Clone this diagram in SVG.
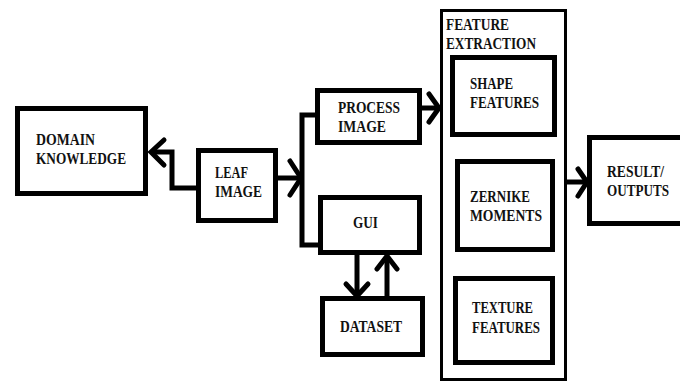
<svg xmlns="http://www.w3.org/2000/svg" width="680" height="382" viewBox="0 0 680 382">
  <style>
    .box { fill: #ffffff; stroke: #000000; stroke-width: 5; }
    .frame { fill: #ffffff; stroke: #000000; stroke-width: 3; }
    .lbl { font-family: "Liberation Serif", "Times New Roman", serif; font-weight: bold; font-size: 17px; fill: #111111; }
    .wire { fill: none; stroke: #000000; stroke-width: 5; stroke-linejoin: miter; }
    .head { fill: none; stroke: #000000; stroke-width: 5; stroke-linecap: round; stroke-linejoin: miter; }
  </style>
  <rect width="680" height="382" fill="#ffffff"/>

  <g id="feature-extraction">
    <rect class="frame" x="441.5" y="10.5" width="124" height="369"/>
    <text class="lbl" x="446" y="30" textLength="63" lengthAdjust="spacingAndGlyphs">FEATURE</text>
    <text class="lbl" x="446" y="49" textLength="90" lengthAdjust="spacingAndGlyphs">EXTRACTION</text>
  </g>

  <g id="domain-knowledge">
    <rect class="box" x="17.5" y="108.5" width="128" height="85"/>
    <text class="lbl" x="36" y="145" textLength="59" lengthAdjust="spacingAndGlyphs">DOMAIN</text>
    <text class="lbl" x="36" y="164" textLength="90" lengthAdjust="spacingAndGlyphs">KNOWLEDGE</text>
  </g>

  <g id="leaf-image">
    <rect class="box" x="198.5" y="150.5" width="77" height="70"/>
    <text class="lbl" x="215" y="178" textLength="33" lengthAdjust="spacingAndGlyphs">LEAF</text>
    <text class="lbl" x="215" y="197" textLength="47" lengthAdjust="spacingAndGlyphs">IMAGE</text>
  </g>

  <g id="process-image">
    <rect class="box" x="317.5" y="90.5" width="102" height="52"/>
    <text class="lbl" x="338" y="113" textLength="62" lengthAdjust="spacingAndGlyphs">PROCESS</text>
    <text class="lbl" x="338" y="132" textLength="48" lengthAdjust="spacingAndGlyphs">IMAGE</text>
  </g>

  <g id="gui">
    <rect class="box" x="320.5" y="197.5" width="99" height="55"/>
    <text class="lbl" x="353" y="228" textLength="25" lengthAdjust="spacingAndGlyphs">GUI</text>
  </g>

  <g id="dataset">
    <rect class="box" x="322.5" y="298.5" width="100" height="56"/>
    <text class="lbl" x="340" y="332" textLength="62" lengthAdjust="spacingAndGlyphs">DATASET</text>
  </g>

  <g id="shape-features">
    <rect class="box" x="452.5" y="57.5" width="102" height="77"/>
    <text class="lbl" x="470" y="89" textLength="43" lengthAdjust="spacingAndGlyphs">SHAPE</text>
    <text class="lbl" x="470" y="108" textLength="69" lengthAdjust="spacingAndGlyphs">FEATURES</text>
  </g>

  <g id="zernike-moments">
    <rect class="box" x="457.5" y="161.5" width="95" height="88"/>
    <text class="lbl" x="470" y="202" textLength="60" lengthAdjust="spacingAndGlyphs">ZERNIKE</text>
    <text class="lbl" x="470" y="221" textLength="72" lengthAdjust="spacingAndGlyphs">MOMENTS</text>
  </g>

  <g id="texture-features">
    <rect class="box" x="455.5" y="278.5" width="97" height="84"/>
    <text class="lbl" x="472" y="313" textLength="61" lengthAdjust="spacingAndGlyphs">TEXTURE</text>
    <text class="lbl" x="472" y="333" textLength="68" lengthAdjust="spacingAndGlyphs">FEATURES</text>
  </g>

  <g id="result-outputs">
    <rect class="box" x="589.5" y="137.5" width="100" height="86"/>
    <text class="lbl" x="607" y="177" textLength="57" lengthAdjust="spacingAndGlyphs">RESULT/</text>
    <text class="lbl" x="607" y="196" textLength="62" lengthAdjust="spacingAndGlyphs">OUTPUTS</text>
  </g>

  <g id="connectors">
    <!-- leaf image to domain knowledge -->
    <path class="wire" d="M198,188 H172 V152 H151"/>
    <path class="head" d="M164,140 L151,152 L164,165"/>
    <!-- leaf image into the split bus -->
    <path class="wire" d="M276,178 H301"/>
    <path class="head" d="M290,161 L301,178 L290,195"/>
    <path class="wire" d="M318,115 H302 V245 H320"/>
    <!-- process image to feature extraction -->
    <path class="wire" d="M420,108 H439"/>
    <path class="head" d="M429,94 L439,108 L429,122"/>
    <!-- gui and dataset -->
    <path class="wire" d="M357,253 V296"/>
    <path class="head" d="M346,284 L357,296 L368,284"/>
    <path class="wire" d="M387,298 V256"/>
    <path class="head" d="M377,269 L387,256 L397,269"/>
    <!-- feature extraction to results -->
    <path class="wire" d="M567,182 H587"/>
    <path class="head" d="M578,169 L587,182 L578,196"/>
  </g>
</svg>
